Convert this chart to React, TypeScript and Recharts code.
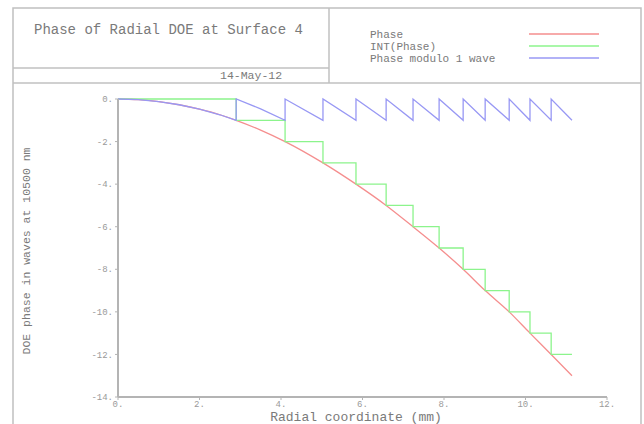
import React from 'react';
import { LineChart, Line, XAxis, YAxis } from 'recharts';

// Phase at sample radii (mm); integer crossings where the steps happen
const radius = [0, 0.5, 1, 1.5, 2, 2.5, 2.9, 3.5, 4.1, 5.03, 5.84, 6.58, 7.24, 7.88, 8.47, 9.01, 9.6, 10.11, 10.63, 11.14];
const phase = [0, -0.03, -0.12, -0.27, -0.48, -0.74, -1, -1.46, -2, -3, -4, -5, -6, -7, -8, -9, -10, -11, -12, -13];

const xTicks = [0, 2, 4, 6, 8, 10, 12];
const yTicks = [-14, -12, -10, -8, -6, -4, -2, 0];

const seriesNames = ['Phase', 'INT(Phase)', 'Phase modulo 1 wave'];
const seriesColors = ['#f58e8e', '#8cf48c', '#9898f4'];

const W = 644;
const H = 424;
const FONT = '"Liberation Mono", "DejaVu Sans Mono", monospace';

// Phase curve itself
const phaseData = radius.map((r, i) => ({ r, v: phase[i] }));

// INT(Phase): the integer level held until the next crossing
const intData = (() => {
  const pts: { r: number; v: number }[] = [];
  radius.forEach((r, i) => {
    const p = phase[i];
    if (Number.isInteger(p) && i < radius.length - 1) pts.push({ r, v: p });
  });
  const last = pts[pts.length - 1];
  pts.push({ r: radius[radius.length - 1], v: last.v });
  return pts;
})();

// Phase modulo 1 wave: sawtooth, jumps back to 0 at each crossing
const modData = (() => {
  const pts: { r: number; v: number }[] = [];
  radius.forEach((r, i) => {
    const p = phase[i];
    if (i === 0) {
      pts.push({ r, v: 0 });
    } else if (Number.isInteger(p)) {
      pts.push({ r, v: -1 });
      if (i < radius.length - 1) pts.push({ r, v: 0 });
    } else {
      pts.push({ r, v: p - Math.ceil(p) });
    }
  });
  return pts;
})();

const fmt = (v: number) => `${v}.`;

const tickStyle = { fill: '#9a9a9a', fontSize: 9, fontFamily: FONT };

const Frame = () => (
  <svg width={W} height={H} style={{ position: 'absolute', left: 0, top: 0, pointerEvents: 'none' }}>
    <g stroke="#c0c0c0" strokeWidth={1.5} fill="none">
      <polyline points={`13,${H} 13,8 641,8 641,${H}`} />
      <line x1={13} y1={68} x2={329} y2={68} />
      <line x1={13} y1={83} x2={641} y2={83} />
      <line x1={329} y1={8} x2={329} y2={83} />
    </g>
    <text x={34} y={34} fontFamily={FONT} fontSize={14} fill="#7a7a7a">
      Phase of Radial DOE at Surface 4
    </text>
    <text x={220} y={79} fontFamily={FONT} fontSize={11.5} fill="#7a7a7a">
      14-May-12
    </text>
    {seriesNames.map((name, i) => (
      <g key={name}>
        <text x={370} y={38 + i * 12} fontFamily={FONT} fontSize={11} fill="#7a7a7a">
          {name}
        </text>
        <line x1={529} y1={34 + i * 12} x2={599} y2={34 + i * 12} stroke={seriesColors[i]} strokeWidth={1.3} />
      </g>
    ))}
    <text x={356} y={421} textAnchor="middle" fontFamily={FONT} fontSize={13} fill="#7a7a7a">
      Radial coordinate (mm)
    </text>
    <text
      x={27}
      y={251}
      textAnchor="middle"
      dominantBaseline="middle"
      transform="rotate(-90 27 251)"
      fontFamily={FONT}
      fontSize={11.5}
      fill="#7a7a7a"
    >
      DOE phase in waves at 10500 nm
    </text>
  </svg>
);

export default function App() {
  return (
    <div style={{ position: 'absolute', left: 0, top: 0, width: W, height: H, background: '#fff' }}>
      <LineChart width={W} height={H} margin={{ top: 99, right: 37, bottom: 7, left: 68 }}>
        <XAxis
          dataKey="r"
          type="number"
          domain={[0, 12]}
          ticks={xTicks}
          tickFormatter={fmt}
          height={20}
          tick={tickStyle}
          tickSize={3}
          tickMargin={1}
          axisLine={{ stroke: '#b4b4b4', strokeWidth: 2 }}
          tickLine={{ stroke: '#b4b4b4' }}
        />
        <YAxis
          type="number"
          domain={[-14, 0]}
          ticks={yTicks}
          tickFormatter={fmt}
          width={50}
          tick={tickStyle}
          tickSize={3}
          tickMargin={2}
          axisLine={{ stroke: '#b4b4b4', strokeWidth: 2 }}
          tickLine={{ stroke: '#b4b4b4' }}
        />
        <Line
          data={phaseData}
          dataKey="v"
          name={seriesNames[0]}
          type="monotone"
          stroke={seriesColors[0]}
          strokeWidth={1.3}
          dot={false}
          isAnimationActive={false}
        />
        <Line
          data={intData}
          dataKey="v"
          name={seriesNames[1]}
          type="stepAfter"
          stroke={seriesColors[1]}
          strokeWidth={1.3}
          dot={false}
          isAnimationActive={false}
        />
        <Line
          data={modData}
          dataKey="v"
          name={seriesNames[2]}
          type="linear"
          stroke={seriesColors[2]}
          strokeWidth={1.3}
          dot={false}
          isAnimationActive={false}
        />
      </LineChart>
      <Frame />
    </div>
  );
}
